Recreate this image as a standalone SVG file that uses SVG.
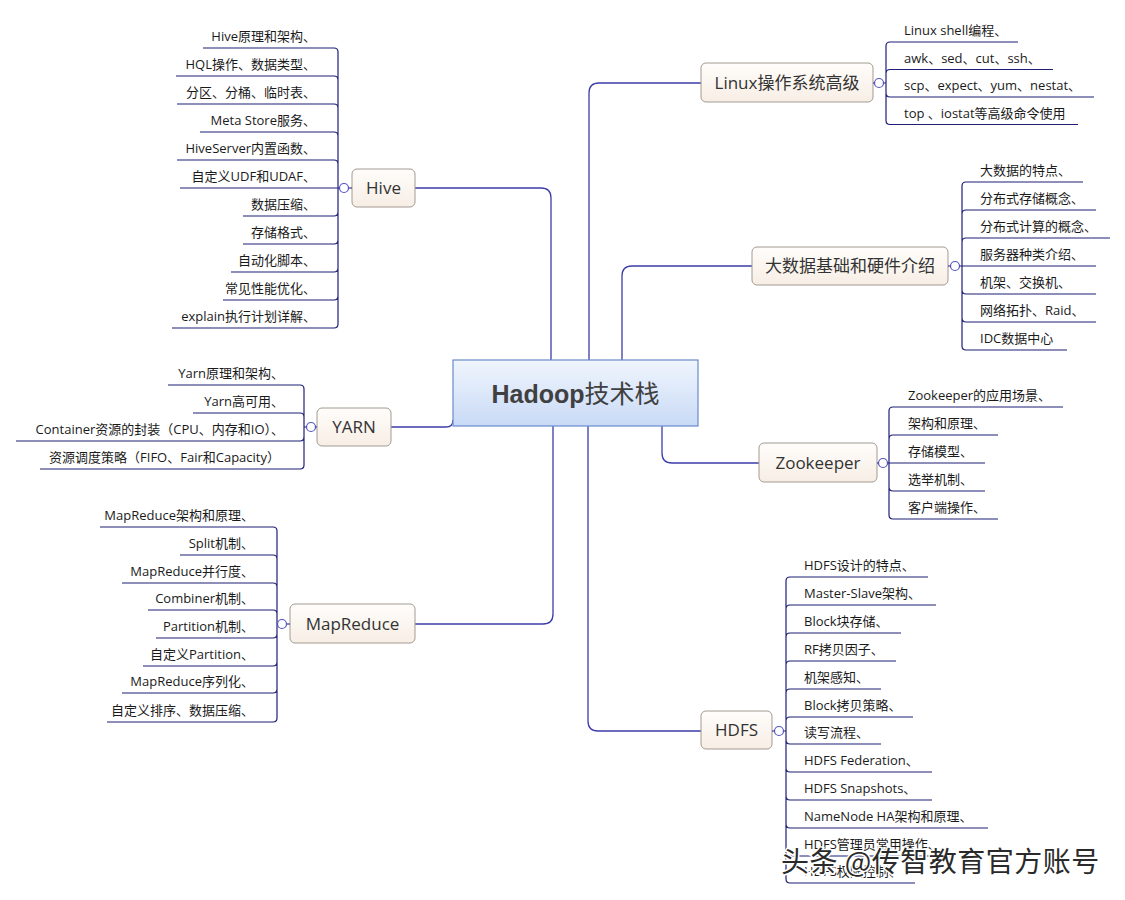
<svg xmlns="http://www.w3.org/2000/svg" width="1125" height="900" viewBox="0 0 1125 900">
<defs>
<linearGradient id="gNode" x1="0" y1="0" x2="0" y2="1">
<stop offset="0" stop-color="#fffdfb"/><stop offset="1" stop-color="#f7eee5"/>
</linearGradient>
<linearGradient id="gCenter" x1="0" y1="0" x2="0" y2="1">
<stop offset="0" stop-color="#f0f5fd"/><stop offset="1" stop-color="#c8daf6"/>
</linearGradient>
</defs>
<style>
.t{font-family:"Open Sans","Noto Sans CJK SC",sans-serif;font-size:13px;fill:#1a1a1a}
.l{text-anchor:end}
.n{font-family:"Open Sans","Noto Sans CJK SC",sans-serif;font-size:17px;fill:#333;text-anchor:middle}
.box{fill:url(#gNode);stroke:#a39a90;stroke-width:1}
.main{fill:none;stroke:#3c3caa;stroke-width:1.3}
.sub{fill:none;stroke:#1f1f78;stroke-width:1.2}
.c{fill:#fff;stroke:#5252c0;stroke-width:1.2}
.wm{font-family:"Noto Sans CJK SC",sans-serif;font-size:28px;fill:#2a2a2a;stroke:#fff;stroke-width:3;paint-order:stroke;letter-spacing:0.5px}
</style>
<rect width="1125" height="900" fill="#fff"/>

<g id="connectors">
<path class="main" d="M589 360 V93 Q589 83 599 83 H701"/>
<path class="main" d="M622 360 V276 Q622 266 632 266 H752"/>
<path class="main" d="M551 360 V198 Q551 188 541 188 H415"/>
<path class="main" d="M662 426 V453 Q662 463 672 463 H759"/>
<path class="main" d="M588 426 V721 Q588 731 598 731 H701"/>
<path class="main" d="M553 426 V614 Q553 624 543 624 H415"/>
<path class="main" d="M391 427 H446 Q453 427 453 420"/>
</g>

<g id="center">
<rect x="453" y="360" width="245" height="66" fill="url(#gCenter)" stroke="#6a8acb" stroke-width="1.2"/>
<text x="575.5" y="403" text-anchor="middle" style="font-size:25px;fill:#404040"><tspan style="font-family:'Liberation Sans',sans-serif;font-weight:bold">Hadoop</tspan><tspan style="font-family:'Noto Sans CJK SC',sans-serif">技术栈</tspan></text>
</g>

<!-- Linux -->
<g id="linux">
<rect class="box" x="701" y="63" width="172" height="39" rx="5"/>
<text class="n" x="787" y="89">Linux操作系统高级</text>
<path class="sub" d="M873 83 H886 M886 46 V120.5 M886 46 Q886 42 890 42 H1018 M886 73.5 Q886 69.5 890 69.5 H1053 M886 93 Q886 97 890 97 H1094 M886 120.5 Q886 124.5 890 124.5 H1078"/>
<circle class="c" cx="879" cy="83" r="4.5"/>
<text class="t" x="904" y="35">Linux shell编程、</text>
<text class="t" x="904" y="62.5">awk、sed、cut、ssh、</text>
<text class="t" x="904" y="90">scp、expect、yum、nestat、</text>
<text class="t" x="904" y="117.5">top 、iostat等高级命令使用</text>
</g>

<!-- 大数据 -->
<g id="bigdata">
<rect class="box" x="752" y="247" width="196" height="38" rx="5"/>
<text class="n" x="850" y="272">大数据基础和硬件介绍</text>
<path class="sub" d="M948 266 H962 M962 186 V346 M962 186 Q962 182 966 182 H1083 M962 214 Q962 210 966 210 H1096 M962 242 Q962 238 966 238 H1110 M962 266 H1096 M962 290 Q962 294 966 294 H1096 M962 318 Q962 322 966 322 H1096 M962 346 Q962 350 966 350 H1067"/>
<circle class="c" cx="955" cy="266" r="4.5"/>
<text class="t" x="980" y="175">大数据的特点、</text>
<text class="t" x="980" y="203">分布式存储概念、</text>
<text class="t" x="980" y="231">分布式计算的概念、</text>
<text class="t" x="980" y="259">服务器种类介绍、</text>
<text class="t" x="980" y="287">机架、交换机、</text>
<text class="t" x="980" y="315">网络拓扑、Raid、</text>
<text class="t" x="980" y="343">IDC数据中心</text>
</g>

<!-- Zookeeper -->
<g id="zookeeper">
<rect class="box" x="759" y="443" width="118" height="39" rx="5"/>
<text class="n" x="818" y="469">Zookeeper</text>
<path class="sub" d="M877 463 H889 M889 411 V515 M889 411 Q889 407 893 407 H1063 M889 439 Q889 435 893 435 H998 M889 463 H985 M889 487 Q889 491 893 491 H985 M889 515 Q889 519 893 519 H998"/>
<circle class="c" cx="883" cy="463" r="4.5"/>
<text class="t" x="908" y="400">Zookeeper的应用场景、</text>
<text class="t" x="908" y="428">架构和原理、</text>
<text class="t" x="908" y="456">存储模型、</text>
<text class="t" x="908" y="484">选举机制、</text>
<text class="t" x="908" y="512">客户端操作、</text>
</g>

<!-- HDFS -->
<g id="hdfs">
<rect class="box" x="701" y="711" width="71" height="38" rx="5"/>
<text class="n" x="736.5" y="736">HDFS</text>
<path class="sub" d="M772 731 H786 M786 581 V879 M786 581 Q786 577 790 577 H928 M786 609 Q786 605 790 605 H936 M786 637 Q786 633 790 633 H901 M786 665 Q786 661 790 661 H896 M786 693 Q786 689 790 689 H881 M786 721 Q786 717 790 717 H913 M786 740 Q786 744 790 744 H881 M786 768 Q786 772 790 772 H932 M786 796 Q786 800 790 800 H932 M786 824 Q786 828 790 828 H988 M786 852 Q786 856 790 856 H950 M786 879 Q786 883 790 883 H915"/>
<circle class="c" cx="779" cy="731" r="4.5"/>
<text class="t" x="804" y="570">HDFS设计的特点、</text>
<text class="t" x="804" y="598">Master-Slave架构、</text>
<text class="t" x="804" y="626">Block块存储、</text>
<text class="t" x="804" y="654">RF拷贝因子、</text>
<text class="t" x="804" y="682">机架感知、</text>
<text class="t" x="804" y="710">Block拷贝策略、</text>
<text class="t" x="804" y="737">读写流程、</text>
<text class="t" x="804" y="765">HDFS Federation、</text>
<text class="t" x="804" y="793">HDFS Snapshots、</text>
<text class="t" x="804" y="821">NameNode HA架构和原理、</text>
<text class="t" x="804" y="849">HDFS管理员常用操作、</text>
<text class="t" x="804" y="876">HDFS权限控制、</text>
</g>

<!-- Hive -->
<g id="hive">
<rect class="box" x="352" y="169" width="63" height="38" rx="5"/>
<text class="n" x="383.5" y="194">Hive</text>
<path class="sub" d="M352 188 H338 M338 52 V324 M338 52 Q338 48 334 48 H203 M338 80 Q338 76 334 76 H176 M338 108 Q338 104 334 104 H177 M338 136 Q338 132 334 132 H200 M338 164 Q338 160 334 160 H177 M338 188 H180 M338 212 Q338 216 334 216 H243 M338 240 Q338 244 334 244 H243 M338 268 Q338 272 334 272 H231 M338 296 Q338 300 334 300 H223 M338 324 Q338 328 334 328 H172"/>
<circle class="c" cx="344" cy="188" r="4.5"/>
<text class="t l" x="316" y="41">Hive原理和架构、</text>
<text class="t l" x="316" y="69">HQL操作、数据类型、</text>
<text class="t l" x="316" y="97">分区、分桶、临时表、</text>
<text class="t l" x="316" y="125">Meta Store服务、</text>
<text class="t l" x="316" y="153">HiveServer内置函数、</text>
<text class="t l" x="316" y="181">自定义UDF和UDAF、</text>
<text class="t l" x="316" y="209">数据压缩、</text>
<text class="t l" x="316" y="237">存储格式、</text>
<text class="t l" x="316" y="265">自动化脚本、</text>
<text class="t l" x="316" y="293">常见性能优化、</text>
<text class="t l" x="316" y="321">explain执行计划详解、</text>
</g>

<!-- YARN -->
<g id="yarn">
<rect class="box" x="317" y="408" width="74" height="38" rx="5"/>
<text class="n" x="354" y="433">YARN</text>
<path class="sub" d="M317 427 H304 M304 389 V465 M304 389 Q304 385 300 385 H168 M304 417 Q304 413 300 413 H193 M304 437 Q304 441 300 441 H16 M304 465 Q304 469 300 469 H40"/>
<circle class="c" cx="311" cy="427" r="4.5"/>
<text class="t l" x="284" y="378">Yarn原理和架构、</text>
<text class="t l" x="284" y="406">Yarn高可用、</text>
<text class="t l" x="284" y="434">Container资源的封装（CPU、内存和IO）、</text>
<text class="t l" x="280" y="462">资源调度策略（FIFO、Fair和Capacity）</text>
</g>

<!-- MapReduce -->
<g id="mapreduce">
<rect class="box" x="290" y="604" width="125" height="39" rx="5"/>
<text class="n" x="352.5" y="630">MapReduce</text>
<path class="sub" d="M290 624 H277 M277 531 V718 M277 531 Q277 527 273 527 H100 M277 559 Q277 555 273 555 H180 M277 587 Q277 583 273 583 H122 M277 614 Q277 610 273 610 H148 M277 634 Q277 638 273 638 H156 M277 662 Q277 666 273 666 H143 M277 689 Q277 693 273 693 H122 M277 718 Q277 722 273 722 H107"/>
<circle class="c" cx="282" cy="624" r="4.5"/>
<text class="t l" x="254" y="520">MapReduce架构和原理、</text>
<text class="t l" x="254" y="548">Split机制、</text>
<text class="t l" x="254" y="576">MapReduce并行度、</text>
<text class="t l" x="254" y="603">Combiner机制、</text>
<text class="t l" x="254" y="631">Partition机制、</text>
<text class="t l" x="254" y="659">自定义Partition、</text>
<text class="t l" x="254" y="686">MapReduce序列化、</text>
<text class="t l" x="254" y="715">自定义排序、数据压缩、</text>
</g>

<text class="wm" x="781" y="872">头条 @传智教育官方账号</text>
</svg>
